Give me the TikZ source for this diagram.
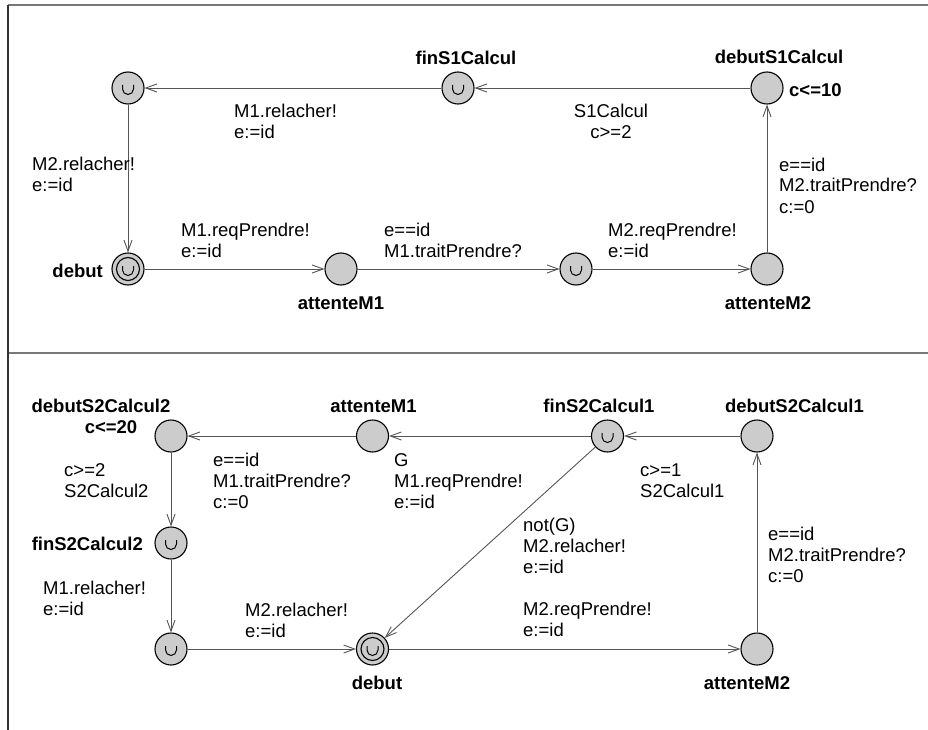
\documentclass[tikz,border=0pt]{standalone}
\usepackage{fontspec}
\setmainfont{Liberation Sans}
\usetikzlibrary{arrows.meta}
\definecolor{locfill}{RGB}{204,204,204}
\definecolor{edgegray}{RGB}{85,85,85}
\definecolor{framegray}{RGB}{120,120,120}
% small cup drawn inside committed locations
\newcommand{\cupmark}{\draw[line width=1pt]
  ([shift={(-5.5pt,3pt)}]path picture bounding box.center) -- ++(0,-4pt)
  arc[start angle=180,end angle=360,radius=5.5pt] -- ++(0,4pt);}
\begin{document}
\begin{tikzpicture}[
  x=1pt,y=-1pt,
  >={Straight Barb[length=11pt,width=8pt]},
  loc/.style={circle,draw,fill=locfill,minimum size=32pt,inner sep=0pt,line width=1.1pt},
  committed/.style={loc,path picture={\cupmark}},
  initloc/.style={loc,path picture={\draw[line width=1.1pt]
      (path picture bounding box.center) circle (11.5pt); \cupmark}},
  trans/.style={->,draw=edgegray,line width=0.9pt},
  lbl/.style={inner sep=0pt,font=\fontsize{18.5}{21}\selectfont},
  locname/.style={lbl,anchor=base,font=\fontsize{18.5}{21}\selectfont\bfseries},
  guard/.style={lbl,align=left,anchor=base west}
]
  \useasboundingbox (0,0) rectangle (928,730);

  % frame of the two templates
  \draw[framegray,line width=1.5pt] (8,5) -- (928,5);
  \draw[framegray,line width=1.5pt] (8,353) -- (928,353);
  \draw[black!80,line width=1.5pt] (8,5) -- (8,730);

  % first template
  \node[committed] (tCom1) at (128,88) {};
  \node[committed] (tFinS1) at (458,88) {};
  \node[loc] (tDebS1) at (767,88) {};
  \node[initloc] (tDebut) at (128,269) {};
  \node[loc] (tAtt1) at (341,269) {};
  \node[committed] (tCom2) at (576,269) {};
  \node[loc] (tAtt2) at (767,269) {};

  \node[locname] (tFinS1Name) at (466,65) {finS1Calcul};
  \node[locname] (tDebS1Name) at (779,64) {debutS1Calcul};
  \node[locname,anchor=base west] (tDebS1Inv) at (789,97) {c<=10};
  \node[locname,anchor=base east] (tDebutName) at (103,277) {debut};
  \node[locname] (tAtt1Name) at (341,309) {attenteM1};
  \node[locname] (tAtt2Name) at (768,309) {attenteM2};

  \draw[trans] (tDebS1) -- (tFinS1);
  \draw[trans] (tFinS1) -- (tCom1);
  \draw[trans] (tCom1) -- (tDebut);
  \draw[trans] (tDebut) -- (tAtt1);
  \draw[trans] (tAtt1) -- (tCom2);
  \draw[trans] (tCom2) -- (tAtt2);
  \draw[trans] (tAtt2) -- (tDebS1);

  % label nodes sit on the baseline of their last line
  \node[guard] (tLblA) at (234,139) {M1.relacher!\\e:=id};
  \node[lbl,align=center,anchor=base] (tLblB) at (611,139) {S1Calcul\\c>=2};
  \node[guard] (tLblC) at (32,192) {M2.relacher!\\e:=id};
  \node[guard] (tLblD) at (181,257) {M1.reqPrendre!\\e:=id};
  \node[guard] (tLblE) at (384,257) {e==id\\M1.traitPrendre?};
  \node[guard] (tLblF) at (608,257) {M2.reqPrendre!\\e:=id};
  \node[guard] (tLblG) at (779,213) {e==id\\M2.traitPrendre?\\c:=0};

  % second template
  \node[loc] (bDebS22) at (171,436) {};
  \node[loc] (bAtt1) at (372.5,436) {};
  \node[committed] (bFinS21) at (607.5,436) {};
  \node[loc] (bDebS21) at (757,436) {};
  \node[committed] (bFinS22) at (171,543) {};
  \node[committed] (bCom) at (171,649) {};
  \node[initloc] (bDebut) at (372.5,649) {};
  \node[loc] (bAtt2) at (757,649) {};

  \node[locname] (bDebS22Name) at (101,412) {debutS2Calcul2};
  \node[locname] (bDebS22Inv) at (111,433) {c<=20};
  \node[locname] (bAtt1Name) at (373.5,412) {attenteM1};
  \node[locname] (bFinS21Name) at (599,412) {finS2Calcul1};
  \node[locname] (bDebS21Name) at (794.5,412) {debutS2Calcul1};
  \node[locname,anchor=base east] (bFinS22Name) at (143,550) {finS2Calcul2};
  \node[locname] (bDebutName) at (377,689) {debut};
  \node[locname] (bAtt2Name) at (747,689) {attenteM2};

  \draw[trans] (bDebS21) -- (bFinS21);
  \draw[trans] (bFinS21) -- (bAtt1);
  \draw[trans] (bAtt1) -- (bDebS22);
  \draw[trans] (bDebS22) -- (bFinS22);
  \draw[trans] (bFinS22) -- (bCom);
  \draw[trans] (bCom) -- (bDebut);
  \draw[trans] (bDebut) -- (bAtt2);
  \draw[trans] (bAtt2) -- (bDebS21);
  \draw[trans] (bFinS21) -- (bDebut);

  \node[guard] (bLblA) at (213,508) {e==id\\M1.traitPrendre?\\c:=0};
  \node[guard] (bLblB) at (394,508) {G\\M1.reqPrendre!\\e:=id};
  \node[guard] (bLblC) at (64,497) {c>=2\\S2Calcul2};
  \node[guard] (bLblD) at (43,615) {M1.relacher!\\e:=id};
  \node[guard] (bLblE) at (245,637) {M2.relacher!\\e:=id};
  \node[guard] (bLblF) at (640,497) {c>=1\\S2Calcul1};
  \node[guard] (bLblG) at (523,573) {not(G)\\M2.relacher!\\e:=id};
  \node[guard] (bLblH) at (523,636) {M2.reqPrendre!\\e:=id};
  \node[guard] (bLblI) at (768,582) {e==id\\M2.traitPrendre?\\c:=0};
\end{tikzpicture}
\end{document}
